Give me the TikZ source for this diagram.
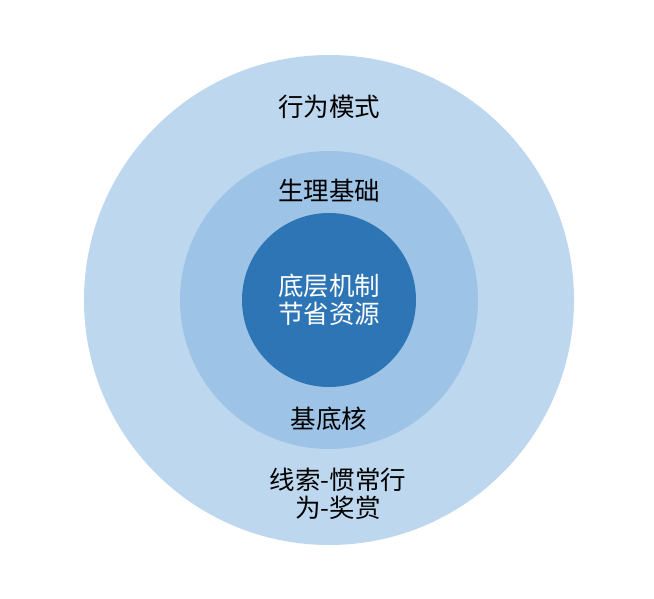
\documentclass[tikz,border=0pt]{standalone}
\usepackage{fontspec}
\newfontfamily\cjk{Noto Sans CJK SC}
\definecolor{outerblue}{HTML}{BDD7EE}
\definecolor{midblue}{HTML}{9DC3E6}
\definecolor{innerblue}{HTML}{2E75B6}
\begin{document}
\begin{tikzpicture}[x=1pt,y=-1pt,
  lbl/.style={font=\cjk\fontsize{25.5}{28.5}\selectfont, align=center, inner sep=0pt},
  ring/.style={circle, draw=none, inner sep=0pt}]
\useasboundingbox (0,0) rectangle (654,599);
\node[ring, fill=outerblue, minimum size=490pt] (outer) at (329,300) {};
\node[ring, fill=midblue, minimum size=298pt] (mid) at (329,300) {};
\node[ring, fill=innerblue, minimum size=174pt] (inner) at (329,300) {};
\node[lbl] (t1) at (329,107) {行为模式};
\node[lbl] (t2) at (329,191) {生理基础};
\node[lbl, text=white] (t3) at (329,300) {底层机制\\节省资源};
\node[lbl] (t4) at (329,419) {基底核};
\node[lbl] (t5) at (338,494) {线索-惯常行\\为-奖赏};
\end{tikzpicture}
\end{document}
